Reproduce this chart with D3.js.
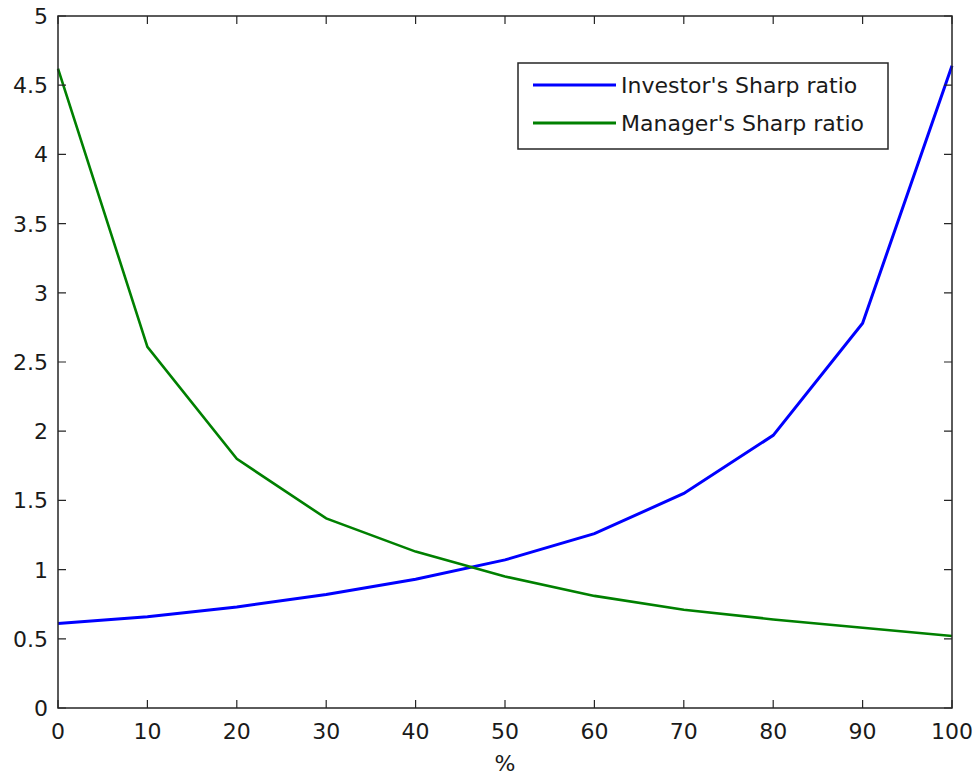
<!DOCTYPE html>
<html>
<head>
<meta charset="utf-8">
<script src="https://cdn.jsdelivr.net/npm/d3@7"></script>
<style>
  body { margin: 0; background: #fff; }
  text { font-family: "DejaVu Sans", sans-serif; font-size: 22px; fill: #1a1a1a; }
</style>
</head>
<body>
<div id="svg"></div>
<script>
// data
var xs = [0, 10, 20, 30, 40, 50, 60, 70, 80, 90, 100];
var investor = [0.61, 0.66, 0.73, 0.82, 0.93, 1.07, 1.26, 1.55, 1.97, 2.78, 4.64];
var manager = [4.62, 2.61, 1.80, 1.37, 1.13, 0.95, 0.81, 0.71, 0.64, 0.58, 0.52];
var xTicks = [0, 10, 20, 30, 40, 50, 60, 70, 80, 90, 100];
var yTicks = [0, 0.5, 1, 1.5, 2, 2.5, 3, 3.5, 4, 4.5, 5];
var seriesNames = ["Investor's Sharp ratio", "Manager's Sharp ratio"];
var seriesColors = ["#0000ff", "#008000"];

var width = 976, height = 777;
var padLeft = 58, padRight = 952, padTop = 16, padBottom = 708;

var svg = d3.select("#svg").append("svg")
    .attr("width", width)
    .attr("height", height);

var xScale = d3.scaleLinear().domain([0, 100]).range([padLeft, padRight]);
var yScale = d3.scaleLinear().domain([0, 5]).range([padBottom, padTop]);

// lines
var line = d3.line()
    .x(function(d, i) { return xScale(xs[i]); })
    .y(function(d) { return yScale(d); });

svg.append("path")
    .datum(investor)
    .attr("fill", "none")
    .attr("stroke", seriesColors[0])
    .attr("stroke-width", 3)
    .attr("d", line);

svg.append("path")
    .datum(manager)
    .attr("fill", "none")
    .attr("stroke", seriesColors[1])
    .attr("stroke-width", 2.6)
    .attr("d", line);

// axes, ticks pointing inward, box all round
var tickLen = 8;
var axisColor = "#262626";

svg.append("rect")
    .attr("x", padLeft).attr("y", padTop)
    .attr("width", padRight - padLeft).attr("height", padBottom - padTop)
    .attr("fill", "none")
    .attr("stroke", axisColor)
    .attr("stroke-width", 1.5);

svg.selectAll(".xtick")
    .data(xTicks)
    .enter().append("path")
    .attr("stroke", axisColor)
    .attr("stroke-width", 1.2)
    .attr("d", function(d) {
      var x = xScale(d);
      return "M" + x + "," + padBottom + "v" + (-tickLen) + "M" + x + "," + padTop + "v" + tickLen;
    });

svg.selectAll(".ytick")
    .data(yTicks)
    .enter().append("path")
    .attr("stroke", axisColor)
    .attr("stroke-width", 1.2)
    .attr("d", function(d) {
      var y = yScale(d);
      return "M" + padLeft + "," + y + "h" + tickLen + "M" + padRight + "," + y + "h" + (-tickLen);
    });

svg.selectAll(".xlabel")
    .data(xTicks)
    .enter().append("text")
    .attr("x", d => xScale(d))
    .attr("y", padBottom + 31)
    .style("text-anchor", "middle")
    .text(d => d);

svg.selectAll(".ylabel")
    .data(yTicks)
    .enter().append("text")
    .attr("x", padLeft - 10)
    .attr("y", d => yScale(d) + 8)
    .style("text-anchor", "end")
    .text(d => d);

svg.append("text")
    .attr("x", (padLeft + padRight) / 2)
    .attr("y", 771)
    .style("text-anchor", "middle")
    .text("%");

// legend
var legend = svg.append("g");
legend.append("rect")
    .attr("x", 518).attr("y", 63)
    .attr("width", 370).attr("height", 86)
    .attr("fill", "#fff")
    .attr("stroke", axisColor)
    .attr("stroke-width", 1.5);

seriesNames.forEach(function(name, i) {
  var y = 85 + i * 38;
  legend.append("line")
      .attr("x1", 533).attr("x2", 616)
      .attr("y1", y).attr("y2", y)
      .attr("stroke", seriesColors[i])
      .attr("stroke-width", 3);
  legend.append("text")
      .attr("x", 621)
      .attr("y", y + 8)
      .text(name);
});
</script>
</body>
</html>
